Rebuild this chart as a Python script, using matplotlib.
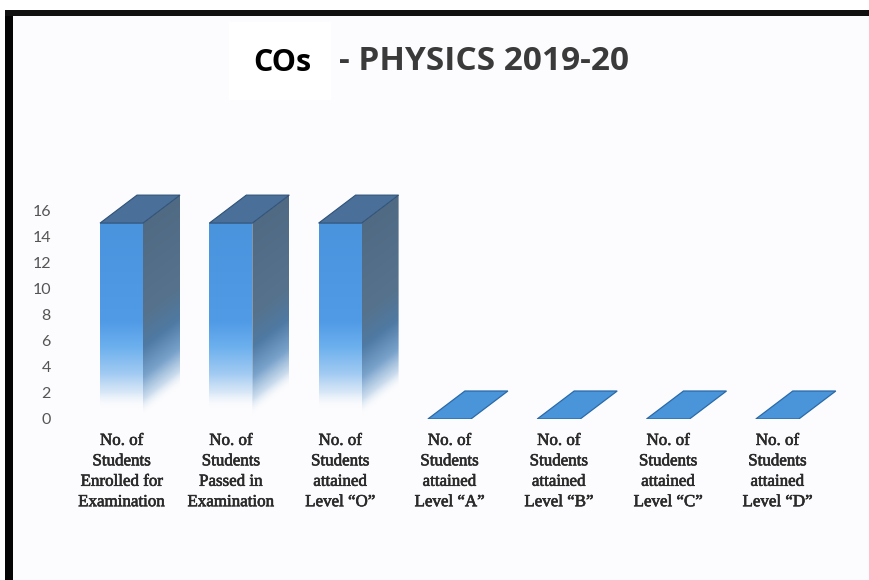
import numpy as np
import matplotlib
matplotlib.use("Agg")
import matplotlib.pyplot as plt
import matplotlib.patheffects as pe
from matplotlib.patches import Rectangle, Polygon

categories = [
    "No. of\nStudents\nEnrolled for\nExamination",
    "No. of\nStudents\nPassed in\nExamination",
    "No. of\nStudents\nattained\nLevel “O”",
    "No. of\nStudents\nattained\nLevel “A”",
    "No. of\nStudents\nattained\nLevel “B”",
    "No. of\nStudents\nattained\nLevel “C”",
    "No. of\nStudents\nattained\nLevel “D”",
]
values = [15, 15, 15, 0, 0, 0, 0]
y_ticks = [0, 2, 4, 6, 8, 10, 12, 14, 16]

W, H = 870, 580
fig = plt.figure(figsize=(W / 100, H / 100), dpi=100, facecolor="white")

def fx(p): return p / W
def fy(p): return 1 - p / H
def frect(x0, y0, x1, y1, color, z=0):
    fig.add_artist(Rectangle((fx(x0), fy(y1)), (x1 - x0) / W, (y1 - y0) / H,
                             transform=fig.transFigure, facecolor=color,
                             edgecolor="none", zorder=z))

frect(12, 15, 870, 580, "#fcfcfe")
frect(229, 22, 331, 100, "#ffffff")
frect(5, 10, 13, 580, "#050505", 1)
frect(5, 10, 870, 16, "#111111", 1)

# axes: 1 x unit = 109.3 px, 1 y unit = 13.06 px
px_x = 109.3
px_y = 13.06
ax_l, ax_r, ax_b, ax_t = 60, 860, 419, 177
ax = fig.add_axes([fx(ax_l), fy(ax_b), (ax_r - ax_l) / W, (ax_b - ax_t) / H])
ax.patch.set_alpha(0)
ax.set_xlim((ax_l - 121.5) / px_x, (ax_r - 121.5) / px_x)
ax.set_ylim(0, (ax_b - ax_t) / px_y)
for s in ax.spines.values():
    s.set_visible(False)

half = 21.5 / px_x
dx = 37 / px_x
dy = 28 / px_y

def ramp(t, stops):
    ts, cs = zip(*stops)
    cs = np.array(cs)
    return np.stack([np.interp(t, ts, cs[:, i]) for i in range(4)], axis=-1)

def h2r(h, a=1.0):
    return tuple(int(h[i:i + 2], 16) / 255 for i in (1, 3, 5)) + (a,)

front_stops = [(0.7, h2r("#ffffff", 0)), (2.0, h2r("#d5e6f7", 0.9)), (3.5, h2r("#a0caf2")),
               (5.5, h2r("#6db0ee")), (7.5, h2r("#509ae6")), (15.0, h2r("#4a94de"))]
side_stops = [(0.2, h2r("#ffffff", 0)), (1.5, h2r("#c2d7ea", 0.85)), (3.2, h2r("#7aa3cc")),
              (5.5, h2r("#4f7aa3")), (8.0, h2r("#56728c")), (15.0, h2r("#506a84"))]

def shaded(poly, rgba_fn, z):
    xs, ys = zip(*poly)
    gx = np.linspace(min(xs), max(xs), 60)
    gy = np.linspace(min(ys), max(ys), 300)
    X, Y = np.meshgrid(gx, gy)
    im = ax.imshow(rgba_fn(X, Y), extent=(gx[0], gx[-1], gy[0], gy[-1]), origin="lower",
                   aspect="auto", interpolation="bilinear", zorder=z)
    im.set_clip_path(Polygon(poly, closed=True, transform=ax.transData))

for i, v in enumerate(values):
    x0, x1 = i - half, i + half
    if v > 0:
        shaded([(x0, 0), (x1, 0), (x1, v), (x0, v)],
               lambda X, Y: ramp(Y, front_stops), 3)
        shaded([(x1, 0), (x1 + dx, dy), (x1 + dx, v + dy), (x1, v)],
               lambda X, Y, a=x1: ramp(Y - (X - a) / dx * dy, side_stops), 2)
        ax.add_patch(Polygon([(x0, v), (x1, v), (x1 + dx, v + dy), (x0 + dx, v + dy)],
                             closed=True, facecolor="#4a6f98", edgecolor="#2f5278",
                             linewidth=0.8, zorder=4))
    else:
        ax.add_patch(Polygon([(x0, v), (x1, v), (x1 + dx, v + dy), (x0 + dx, v + dy)],
                             closed=True, facecolor="#4a94da", edgecolor="#2a6aa8",
                             linewidth=0.9, zorder=4))

ax.set_yticks(y_ticks)
ax.set_xticks(range(len(categories)))
ax.set_xticklabels(categories, family="Liberation Serif", fontsize=12.2, color="#2a2a2a",
                   linespacing=1.37)
for lab in ax.get_xticklabels():
    lab.set_path_effects([pe.withStroke(linewidth=0.45, foreground="#2a2a2a")])
ax.set_yticklabels([str(t) for t in y_ticks], family="Lato", fontsize=11.5, color="#555555")
ax.tick_params(axis="both", length=0)
ax.tick_params(axis="x", pad=10)
ax.tick_params(axis="y", pad=6.5)

fig.text(fx(282), fy(63), "COs", family="Open Sans", fontweight="bold", fontsize=22,
         color="#000000", ha="center", va="center", zorder=5)
fig.text(fx(484), fy(61), "- PHYSICS 2019-20", family="Open Sans", fontweight="bold",
         fontsize=24, color="#3a3a3a", ha="center", va="center", zorder=5)

fig.savefig("out.png", dpi=100, facecolor="white")
